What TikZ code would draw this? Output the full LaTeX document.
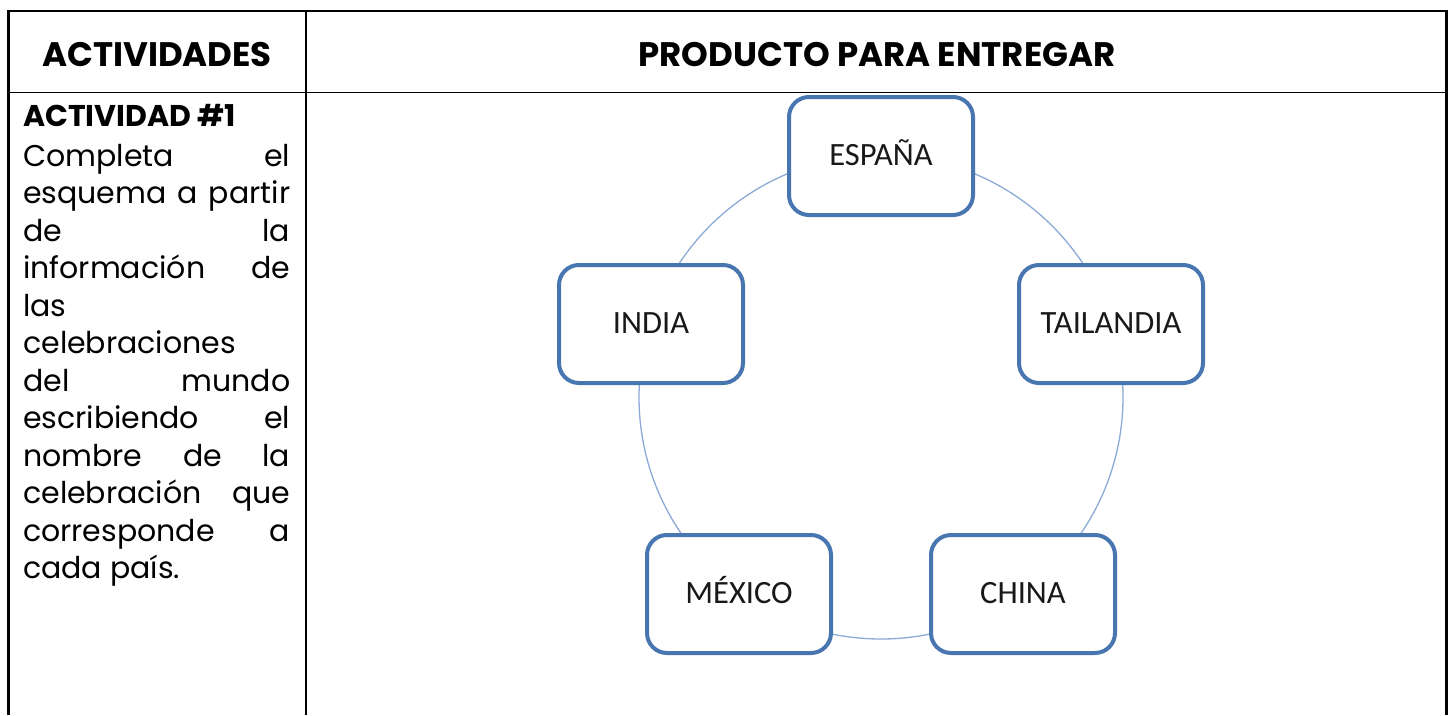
\documentclass[tikz,border=0pt]{standalone}
\usepackage{fontspec}
\newfontfamily\gothic{Poppins}
\newfontfamily\calib{Carlito}
\definecolor{boxblue}{RGB}{72,118,176}
\definecolor{ringblue}{RGB}{140,170,215}
\tikzset{
  gridline/.style={draw=black, line width=2.5pt},
  headtxt/.style={anchor=base, inner sep=0pt, font=\gothic\bfseries\fontsize{34}{40}\selectfont},
  country/.style={draw=boxblue, line width=4pt, rounded corners=20pt, fill=white,
    minimum width=184pt, minimum height=118pt, inner sep=0pt, text height=19pt, text depth=0pt,
    font=\calib\fontsize{32.5}{38}\selectfont, text=black!90},
  ring/.style={circle, draw=ringblue, line width=1.3pt, minimum size=484pt, inner sep=0pt, outer sep=0pt}
}
\begin{document}
\begin{tikzpicture}[x=1pt, y=-1pt]
\useasboundingbox (0,0) rectangle (1454,715);
\fill[white] (0,0) rectangle (1454,715);
% table
\draw[gridline] (8.5,715) -- (8.5,11) -- (1446.5,11) -- (1446.5,715);
\draw[gridline, line width=2pt] (306,11) -- (306,715);
\draw[gridline, line width=1.6pt] (8.5,92.5) -- (1446.5,92.5);
% headers
\node[headtxt] (h1) at (157,66) {ACTIVIDADES};
\node[headtxt] (h2) at (877,66) {PRODUCTO PARA ENTREGAR};
% left column
\node[anchor=base west, inner sep=0pt, font=\gothic\bfseries\fontsize{30}{34}\selectfont] (act) at (23,126) {ACTIVIDAD \#1};
\node[anchor=base west, inner sep=0pt, font=\gothic\fontsize{30}{37.5}\selectfont] (body) at (23,166)
{\vtop{\hsize=267pt\baselineskip=37.5pt\lineskip=0pt\lineskiplimit=-100pt
\hbox to\hsize{Completa \hfill el}
\hbox to\hsize{esquema \hfil a \hfil partir}
\hbox to\hsize{de \hfill la}
\hbox to\hsize{información \hfill de}
\hbox{las}
\hbox{celebraciones}
\hbox to\hsize{del \hfill mundo}
\hbox to\hsize{escribiendo \hfill el}
\hbox to\hsize{nombre \hfill de \hfill la}
\hbox to\hsize{celebración \hfill que}
\hbox to\hsize{corresponde \hfill a}
\hbox{cada país.}}};
% diagram
\node[ring] (cyc) at (881,397) {};
\node[country] (esp) at (881,156) {ESPAÑA};
\node[country] (ind) at (651,324) {INDIA};
\node[country] (tai) at (1111,324) {TAILANDIA};
\node[country] (mex) at (739,594) {MÉXICO};
\node[country] (chn) at (1023,594) {CHINA};
\end{tikzpicture}
\end{document}
